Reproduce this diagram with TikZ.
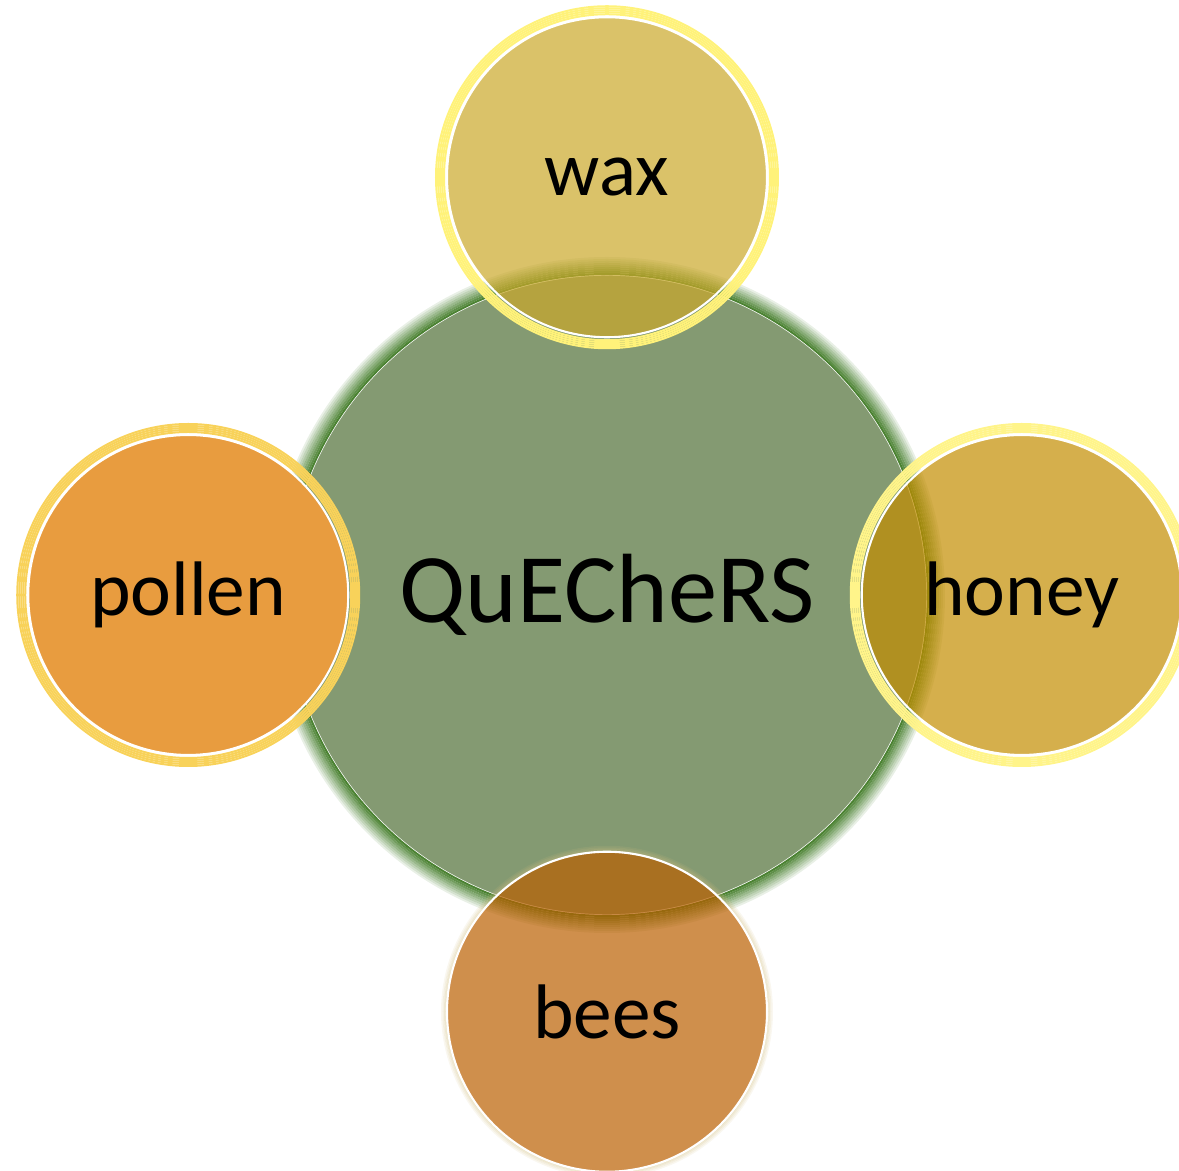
\documentclass[tikz,border=0pt]{standalone}
\usepackage{fontspec}
\setmainfont{Carlito}
\usetikzlibrary{positioning}

\definecolor{hubgreen}{HTML}{849A72}
\definecolor{hubglow}{HTML}{4B8232}
\definecolor{waxgold}{HTML}{CAA82A}
\definecolor{waxglow}{HTML}{FFF27A}
\definecolor{pollenorange}{HTML}{E89C3F}
\definecolor{pollenglow}{HTML}{F8D25A}
\definecolor{honeygold}{HTML}{C38D00}
\definecolor{honeyglow}{HTML}{FFF48A}
\definecolor{beesbrown}{HTML}{BA5F00}
\definecolor{beesglow}{HTML}{D2BE80}

\pgfdeclarelayer{hublayer}
\pgfdeclarelayer{glowlayer}
\pgfsetlayers{hublayer,glowlayer,main}

\begin{document}
\begin{tikzpicture}[
        hub/.style={circle, draw=white, line width=0.8pt, fill=hubgreen, minimum size=12.8cm, inner sep=0pt, font=\fontsize{56}{60}\selectfont},
        leaf/.style={circle, draw=white, line width=1.2pt, fill opacity=0.7, text opacity=1, minimum size=6.4cm, inner sep=0pt, font=\fontsize{44}{48}\selectfont}
    ]
        \useasboundingbox (-12.14,-11.52) rectangle (11.44,11.9);

        % Hub
        \begin{pgfonlayer}{hublayer}
            \node (hub) [hub] at (0,0) {QuECheRS};
            \foreach \k [evaluate=\k as \op using 1-0.11*\k] in {0,...,8}
                \draw[hubglow, line width=0.04cm, opacity=\op] (hub.center) circle ({6.42+0.04*\k});
        \end{pgfonlayer}

        % Leaves
        \node (wax) [leaf, fill=waxgold, above=-1.28cm of hub] {wax};
        \node (pollen) [leaf, fill=pollenorange, fill opacity=1, left=-1.26cm of hub] {pollen};
        \node (honey) [leaf, fill=honeygold, right=-1.34cm of hub] {honey};
        \node (bees) [leaf, fill=beesbrown, below=-1.3cm of hub] {bees};

        % Glows
        \begin{pgfonlayer}{glowlayer}
            \foreach \n/\c in {wax/waxglow, pollen/pollenglow, honey/honeyglow}
                \foreach \k [evaluate=\k as \op using 0.45-0.07*\k] in {0,...,5}
                    \draw[\c, line width=0.04cm, opacity=\op] (\n.center) circle ({3.22+0.04*\k});
            \foreach \k [evaluate=\k as \op using 0.45-0.11*\k] in {0,...,3}
                \draw[beesglow, line width=0.03cm, opacity=\op] (bees.center) circle ({3.215+0.03*\k});
        \end{pgfonlayer}

    \end{tikzpicture}
\end{document}
